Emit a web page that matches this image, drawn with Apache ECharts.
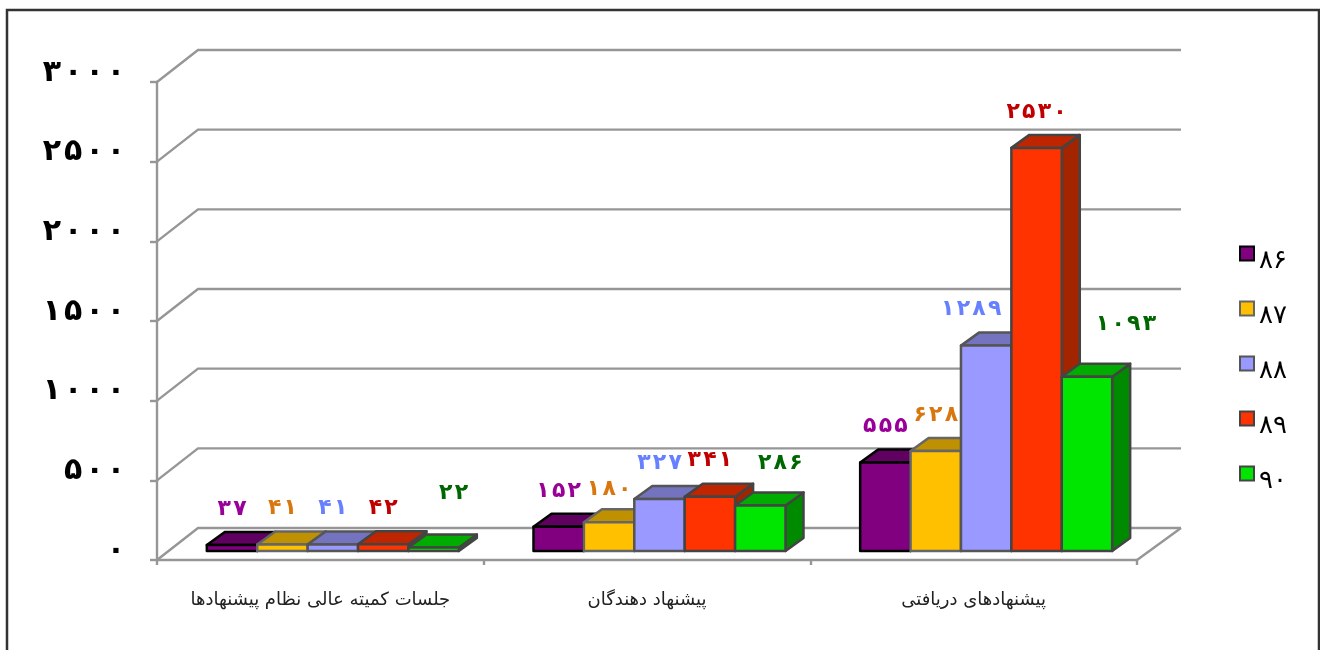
<!DOCTYPE html>
<html>
<head>
<meta charset="utf-8">
<style>
  html, body { margin: 0; padding: 0; background: #fff; }
  #chart { width: 1320px; height: 650px; }
</style>
<script src="https://cdn.jsdelivr.net/npm/echarts@6/dist/echarts.min.js"></script>
</head>
<body>
<div id="chart"></div>
<script>
const categories = ['جلسات کمیته عالی نظام پیشنهادها', 'پیشنهاد دهندگان', 'پیشنهادهای دریافتی']
const years = ['۸۶', '۸۷', '۸۸', '۸۹', '۹۰']
const values86 = [37, 152, 555]
const values87 = [41, 180, 628]
const values88 = [41, 327, 1289]
const values89 = [42, 341, 2530]
const values90 = [22, 286, 1093]
const tickValues = [0, 500, 1000, 1500, 2000, 2500, 3000]
const tickLabels = ['۰', '۵۰۰', '۱۰۰۰', '۱۵۰۰', '۲۰۰۰', '۲۵۰۰', '۳۰۰۰']

const allValues = [values86, values87, values88, values89, values90]
const FONT = '"DejaVu Sans"'
const HAIR = '\u200A'
// front, top, side, border, label
const palette = [
  ['#800080', '#600060', '#4d004d', '#000000', '#990099'],
  ['#FFC000', '#BF9000', '#997300', '#666666', '#D9770F'],
  ['#9999FF', '#7373BF', '#5c5c99', '#555555', '#6680FF'],
  ['#FF3300', '#BF2600', '#A32500', '#444444', '#C00000'],
  ['#00E600', '#00AC00', '#008A00', '#444444', '#006600']
]

const wallDx = 41, wallDy = -32, wallRightExtra = 3
const barW = 50.4, barDx = 18, barDy = -13
const groupShift = 12.5, barLift = 9, labelRise = 36

// [dx, dy] for the labels that don't sit straight over their bar
const labelNudge = {
  '4-0': [20, -18], '4-1': [20, -6], '4-2': [39, -17],
  '2-2': [-15, 0], '1-1': [0, 3]
}

function persian(n) {
  return String(n).replace(/\d/g, d => '۰۱۲۳۴۵۶۷۸۹'[d]).split('').join(HAIR)
}

function renderWall(params, api) {
  const cs = params.coordSys
  const y = api.coord([0, api.value(1)])[1]
  const right = cs.x + cs.width
  const style = { stroke: '#969696', lineWidth: 2.4, fill: null }
  const kids = [{
    type: 'polyline',
    shape: { points: [[cs.x, y], [cs.x + wallDx, y + wallDy], [right + wallDx + wallRightExtra, y + wallDy]] },
    style: style
  }]
  if (api.value(1) === 0) {
    kids.push({
      type: 'polyline',
      shape: { points: [[right, y], [right + wallDx + wallRightExtra, y + wallDy]] },
      style: style
    })
  }
  return { type: 'group', children: kids }
}

function makeRenderBar(idx) {
  const c = palette[idx]
  return function (params, api) {
    const catIdx = api.value(0)
    const val = api.value(1)
    const center = api.coord([catIdx, 0])[0]
    const x0 = center + groupShift + (idx - 2.5) * barW
    const x1 = x0 + barW
    const yBase = api.coord([catIdx, 0])[1] - barLift
    const yTop = api.coord([catIdx, val])[1] - barLift
    const line = { stroke: c[3], lineWidth: 2.5, lineJoin: 'round' }
    const nudge = labelNudge[idx + '-' + catIdx] || [0, 0]
    return {
      type: 'group',
      children: [
        {
          type: 'polygon',
          shape: { points: [[x1, yBase], [x1 + barDx, yBase + barDy], [x1 + barDx, yTop + barDy], [x1, yTop]] },
          style: Object.assign({ fill: c[2] }, line)
        },
        {
          type: 'polygon',
          shape: { points: [[x0, yTop], [x0 + barDx, yTop + barDy], [x1 + barDx, yTop + barDy], [x1, yTop]] },
          style: Object.assign({ fill: c[1] }, line)
        },
        {
          type: 'rect',
          shape: { x: x0, y: yTop, width: barW, height: yBase - yTop },
          style: Object.assign({ fill: c[0] }, line)
        },
        {
          type: 'text',
          z2: 50,
          style: {
            x: x0 + barW / 2 + nudge[0],
            y: yTop - labelRise + nudge[1],
            text: persian(val),
            fill: c[4],
            font: 'bold 22px ' + FONT,
            align: 'center',
            verticalAlign: 'middle'
          }
        }
      ]
    }
  }
}

const series = [{
  type: 'custom',
  name: 'wall',
  silent: true,
  clip: false,
  z: 1,
  renderItem: renderWall,
  data: tickValues.map(v => [0, v])
}]
years.forEach((name, i) => {
  series.push({
    type: 'custom',
    name: name,
    clip: false,
    z: 3 + i,
    renderItem: makeRenderBar(i),
    itemStyle: { color: palette[i][0], borderColor: palette[i][3], borderWidth: 2.5 },
    data: allValues[i].map((v, k) => [k, v])
  })
})

const chart = echarts.init(document.getElementById('chart'))
chart.setOption({
  animation: false,
  backgroundColor: '#ffffff',
  graphic: [{
    type: 'rect',
    shape: { x: 7, y: 10, width: 1312, height: 660 },
    style: { fill: null, stroke: '#333333', lineWidth: 2.5 },
    silent: true
  }],
  grid: { left: 157, right: 183, top: 82, bottom: 90 },
  legend: {
    data: years,
    orient: 'vertical',
    left: 1234,
    top: 228,
    icon: 'rect',
    itemWidth: 14,
    itemHeight: 14,
    itemGap: 14,
    formatter: name => '{y|' + name + '}',
    textStyle: {
      rich: {
        y: { fontFamily: FONT, fontSize: 26, color: '#000', lineHeight: 24, padding: [15, 0, 0, 0] }
      }
    }
  },
  xAxis: {
    type: 'category',
    data: categories,
    axisLine: { lineStyle: { color: '#969696', width: 2.4 } },
    axisTick: { show: true, length: 5, alignWithLabel: false, lineStyle: { color: '#969696', width: 2.4 } },
    axisLabel: { margin: 31, fontFamily: FONT, fontSize: 18, color: '#222222', interval: 0 }
  },
  yAxis: {
    type: 'value',
    min: 0,
    max: 3000,
    interval: 500,
    splitLine: { show: false },
    axisLine: { show: true, lineStyle: { color: '#969696', width: 2.4 } },
    axisTick: { show: true, length: 7, lineStyle: { color: '#969696', width: 2.4 } },
    axisLabel: {
      margin: 32,
      fontFamily: FONT,
      fontSize: 30,
      fontWeight: 'bold',
      color: '#000000',
      verticalAlign: 'bottom',
      lineHeight: 18,
      formatter: v => tickLabels[tickValues.indexOf(v)].split('').join(HAIR)
    }
  },
  series: series
})
</script>
</body>
</html>
